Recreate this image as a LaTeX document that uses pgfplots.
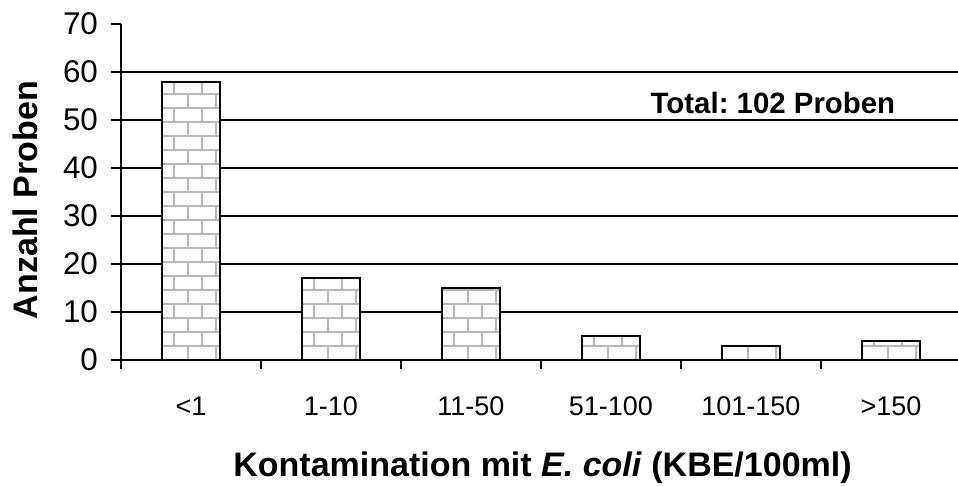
\documentclass[border=0pt]{standalone}
\usepackage{pgfplots}
\pgfplotsset{compat=1.18}
\usepackage{fontspec}
\setmainfont{Liberation Sans}
\usetikzlibrary{patterns}
\pgfdeclarepatternformonly{mybricks}{\pgfpoint{-1pt}{-1pt}}{\pgfpoint{15pt}{15pt}}{\pgfpoint{14pt}{14pt}}{%
  \pgfsetlinewidth{0.9pt}%
  \pgfpathmoveto{\pgfpoint{0pt}{0pt}}\pgfpathlineto{\pgfpoint{14pt}{0pt}}%
  \pgfpathmoveto{\pgfpoint{0pt}{7pt}}\pgfpathlineto{\pgfpoint{14pt}{7pt}}%
  \pgfpathmoveto{\pgfpoint{3pt}{0pt}}\pgfpathlineto{\pgfpoint{3pt}{7pt}}%
  \pgfpathmoveto{\pgfpoint{10pt}{7pt}}\pgfpathlineto{\pgfpoint{10pt}{14pt}}%
  \pgfusepath{stroke}}
\definecolor{brick}{gray}{0.72}
\frenchspacing
\begin{document}
\begin{tikzpicture}
\begin{axis}[
  scale only axis,
  width=418.5pt, height=168pt,
  xmin=-0.5, xmax=5.479,
  ymin=0, ymax=70,
  axis x line*=bottom, axis y line*=left,
  axis line style={line width=1pt, black},
  ytick={0,10,...,70},
  xtick={0,...,5},
  xticklabels={{<1},{1-10},{11-50},{51-100},{101-150},{>150}},
  minor xtick={-0.5,0.5,1.5,2.5,3.5,4.5},
  tick align=outside,
  major tick length=5pt, minor tick length=4.5pt,
  major x tick style={draw=none},
  tick style={line width=1pt, black},
  extra y ticks={10,20,...,60},
  extra y tick labels={},
  extra y tick style={grid=major, major tick length=0pt},
  major grid style={line width=1pt, black},
  /pgf/number format/assume math mode=true,
  xticklabel style={font=\fontsize{13.5}{15}\selectfont, yshift=-10pt},
  yticklabel style={font=\fontsize{15.7}{18}\selectfont, xshift=-3pt},
  ybar, bar width=29pt,
  every axis x label/.style={at={(axis description cs:0.5036,0)}, anchor=base, yshift=-58.5pt},
  every axis y label/.style={at={(axis description cs:0,0.476)}, rotate=90, anchor=center, yshift=48pt},
  xlabel={\fontsize{17}{20}\selectfont\bfseries Kontamination mit \textit{E. coli} (KBE/100ml)},
  ylabel={\fontsize{17}{20}\selectfont\bfseries Anzahl Proben},
  clip=false,
]
\addplot[draw=black, line width=1pt, fill=white, postaction={pattern=mybricks, pattern color=brick}]
  coordinates {(0,58) (1,17) (2,15) (3,5) (4,3) (5,4)};
\node[font=\fontsize{14.7}{17}\selectfont\bfseries] at (axis cs:4.157,53.6) {Total: 102 Proben};
\end{axis}
\pgfresetboundingbox
\path ([xshift=-60.5pt,yshift=-63pt]current axis.south west) rectangle ([yshift=12pt]current axis.north east);
\end{tikzpicture}
\end{document}
